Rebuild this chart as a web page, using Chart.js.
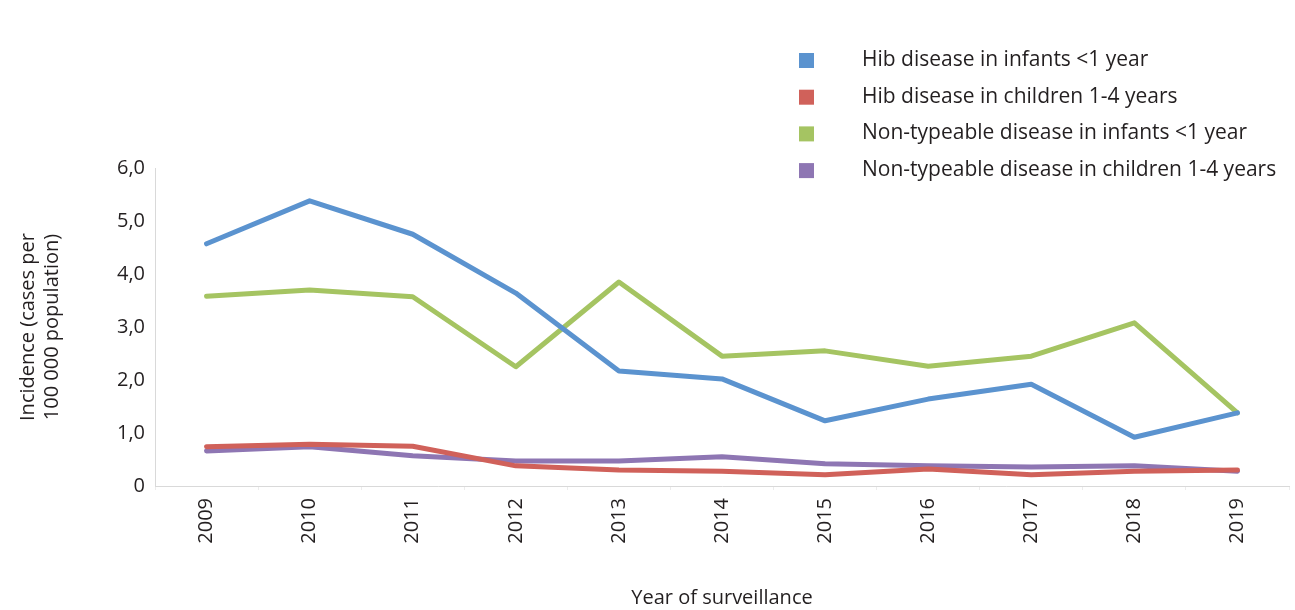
<!DOCTYPE html>
<html>
<head>
<meta charset="utf-8">
<script src="https://cdn.jsdelivr.net/npm/chart.js@4.4.0/dist/chart.umd.min.js"></script>
<style>
  html, body { margin: 0; padding: 0; background: #fff; }
  #wrap { width: 1295px; height: 610px; }
</style>
</head>
<body>
<div id="wrap"><canvas id="hibChart" width="1295" height="610"></canvas></div>
<script>
// Data
var years = ['2009', '2010', '2011', '2012', '2013', '2014', '2015', '2016', '2017', '2018', '2019'];
var hibInfants = [4.57, 5.38, 4.75, 3.64, 2.17, 2.02, 1.23, 1.64, 1.92, 0.92, 1.38];
var hibChildren = [0.74, 0.79, 0.75, 0.38, 0.30, 0.28, 0.21, 0.32, 0.21, 0.28, 0.30];
var ntInfants = [3.58, 3.70, 3.57, 2.25, 3.85, 2.45, 2.55, 2.26, 2.45, 3.08, 1.38];
var ntChildren = [0.66, 0.74, 0.57, 0.47, 0.47, 0.55, 0.42, 0.38, 0.36, 0.38, 0.28];

var textColor = '#231f20';
var fontFamily = "'Open Sans', sans-serif";

// legend drawn as a vertical list in the top right corner
var sideLegend = {
    id: 'sideLegend',
    afterDraw: function (chart) {
        var ctx = chart.ctx;
        ctx.save();
        ctx.font = '21px ' + fontFamily;
        ctx.textBaseline = 'middle';
        ctx.textAlign = 'left';
        chart.data.datasets.forEach(function (ds, i) {
            var y = 60 + i * 36.7;
            ctx.fillStyle = ds.borderColor;
            ctx.fillRect(799, y - 7, 15, 15);
            ctx.fillStyle = textColor;
            ctx.fillText(ds.label, 862, y);
        });
        ctx.restore();
    }
};

var ctxHib = document.getElementById('hibChart').getContext('2d');
var hibChart = new Chart(ctxHib, {
    type: 'line',
    data: {
        labels: years,
        datasets: [{
            label: 'Hib disease in infants <1 year',
            data: hibInfants,
            borderColor: '#5b93cf',
            backgroundColor: '#5b93cf'
        }, {
            label: 'Hib disease in children 1-4 years',
            data: hibChildren,
            borderColor: '#d0615a',
            backgroundColor: '#d0615a'
        }, {
            label: 'Non-typeable disease in infants <1 year',
            data: ntInfants,
            borderColor: '#a5c462',
            backgroundColor: '#a5c462'
        }, {
            label: 'Non-typeable disease in children 1-4 years',
            data: ntChildren,
            borderColor: '#8e76b3',
            backgroundColor: '#8e76b3'
        }]
    },
    options: {
        responsive: false,
        animation: false,
        layout: {
            padding: { top: 168, right: 6, left: 16, bottom: 0 }
        },
        elements: {
            line: { borderWidth: 5, tension: 0, borderCapStyle: 'round', borderJoinStyle: 'round' },
            point: { radius: 0 }
        },
        plugins: {
            legend: { display: false },
            tooltip: { enabled: false }
        },
        scales: {
            x: {
                offset: true,
                afterFit: function (scale) { scale.height = 124; },
                grid: {
                    offset: true,
                    drawOnChartArea: false,
                    drawTicks: true,
                    tickLength: 4,
                    color: '#ececec'
                },
                border: { display: true, color: '#d9d9d9', width: 1 },
                ticks: {
                    color: textColor,
                    font: { family: fontFamily, size: 20 },
                    minRotation: 90,
                    maxRotation: 90,
                    padding: 8
                },
                title: {
                    display: true,
                    text: 'Year of surveillance',
                    color: textColor,
                    font: { family: fontFamily, size: 20 },
                    padding: { top: 26, bottom: 0 }
                }
            },
            y: {
                min: 0,
                max: 6,
                afterFit: function (scale) { scale.width = 139; },
                grid: { display: false, drawTicks: false },
                border: { display: true, color: '#d9d9d9', width: 1 },
                ticks: {
                    stepSize: 1,
                    color: textColor,
                    font: { family: fontFamily, size: 20 },
                    padding: 10,
                    callback: function (v) {
                        return v === 0 ? '0' : v.toFixed(1).replace('.', ',');
                    }
                },
                title: {
                    display: true,
                    text: ['Incidence (cases per', '100 000 population)'],
                    color: textColor,
                    font: { family: fontFamily, size: 20, lineHeight: 1.2 },
                    padding: { top: 0, bottom: 6 }
                }
            }
        }
    },
    plugins: [sideLegend]
});
</script>
</body>
</html>
